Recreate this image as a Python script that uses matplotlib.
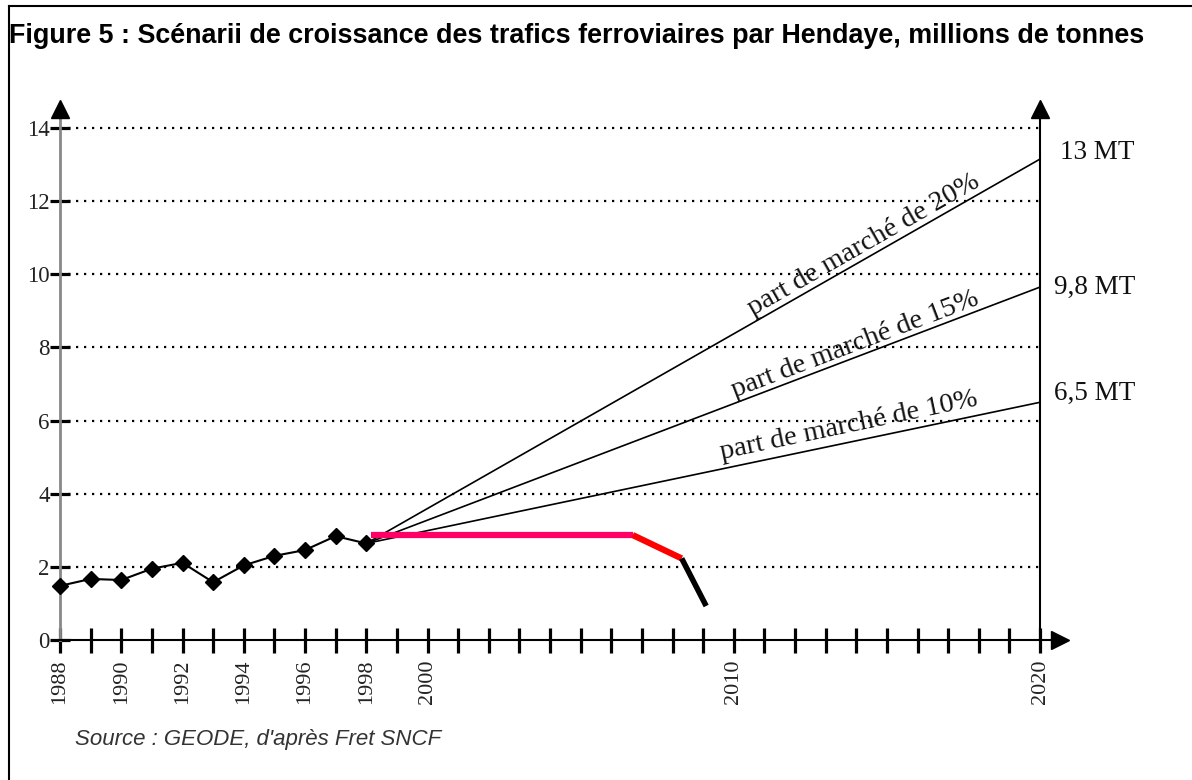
import numpy as np
import matplotlib
matplotlib.use("Agg")
import matplotlib.pyplot as plt
from matplotlib.lines import Line2D

# historical traffic via Hendaye (millions of tonnes)
years = [1988, 1989, 1990, 1991, 1992, 1993, 1994, 1995, 1996, 1997, 1998]
traffic = [1.48, 1.67, 1.64, 1.95, 2.11, 1.58, 2.04, 2.30, 2.46, 2.84, 2.64]

# scenarios from 1998 to 2020
scen_start = 1998
scen_end = 2020
scen_values = [13.15, 9.65, 6.5]
scen_names = ["part de marché de 20%", "part de marché de 15%", "part de marché de 10%"]
scen_end_labels = ["13 MT", "9,8 MT", "6,5 MT"]

# actual trend drawn on top (pink / red / black)
pink_x = [1998.15, 2006.7]
pink_y = [2.87, 2.87]
red_x = [2006.7, 2008.3]
red_y = [2.87, 2.23]
black_x = [2008.3, 2009.1]
black_y = [2.23, 0.93]

xlabel_years = [1988, 1990, 1992, 1994, 1996, 1998, 2000, 2010, 2020]
yticks = [0, 2, 4, 6, 8, 10, 12, 14]

serif = "Liberation Serif"
sans = "Liberation Sans"

fig = plt.figure(figsize=(11.92, 7.8), dpi=100)
ax = fig.add_axes([60 / 1192, 140 / 780, 980 / 1192, 512 / 780])
ax.set_xlim(1988, 2020)
ax.set_ylim(0, 14)
for s in ax.spines.values():
    s.set_visible(False)
ax.patch.set_visible(False)

# dotted grid
ax.hlines(yticks[1:], 1988, 2020, colors="black", linewidth=1.6,
          linestyles=(0, (1, 2.6)), clip_on=False, zorder=1)

# axes lines with arrows
ax.plot([1988, 1988], [0, 14.5], color="#888888", lw=2, clip_on=False, zorder=2)
ax.plot([2020, 2020], [0, 14.5], color="black", lw=1.5, clip_on=False, zorder=2)
ax.plot([1988, 2020.6], [0, 0], color="black", lw=1.5, clip_on=False, zorder=2)
ax.plot([1988, 2020], [14.53, 14.53], ls="none", marker="^", ms=13, color="black", clip_on=False)
ax.plot([2020.65], [0], ls="none", marker=">", ms=13, color="black", clip_on=False)

# ticks
ax.set_xticks(xlabel_years)
ax.set_xticks(np.arange(1988, 2021), minor=True)
ax.set_xticklabels([str(y) for y in xlabel_years], rotation=90, fontfamily=serif,
                   fontsize=16, color="#222222")
ax.tick_params(axis="x", which="both", direction="inout", length=18, width=2.3,
               color="black", pad=5)
ax.set_yticks(yticks)
ax.set_yticklabels([str(v) for v in yticks], fontfamily=serif, fontsize=16.5, color="#222222")
ax.tick_params(axis="y", direction="inout", length=15, width=2.3, color="black", pad=0)

# scenario lines
for val, name, off, xc in zip(scen_values, scen_names, [0.0, 0.0, 0.1],
                              [2014.45, 2014.1, 2013.85]):
    ax.plot([scen_start, scen_end], [traffic[-1], val], color="black", lw=1.2,
            clip_on=False, zorder=3)
    slope = (val - traffic[-1]) / (scen_end - scen_start)
    yc = traffic[-1] + slope * (xc - scen_start) + off
    ang = np.degrees(np.arctan2(val - traffic[-1], scen_end - scen_start))
    ax.text(xc, yc, name, rotation=ang, transform_rotates_text=True,
            rotation_mode="anchor", ha="center", va="bottom",
            fontfamily=serif, fontsize=20.5, color="#111111")

ax.text(2023.1, 13.34, scen_end_labels[0], ha="right", va="center",
        fontfamily=serif, fontsize=19.5, color="#111111", clip_on=False)
ax.text(2023.1, 9.65, scen_end_labels[1], ha="right", va="center",
        fontfamily=serif, fontsize=19.5, color="#111111", clip_on=False)
ax.text(2023.1, 6.75, scen_end_labels[2], ha="right", va="center",
        fontfamily=serif, fontsize=19.5, color="#111111", clip_on=False)

# historical series
ax.plot(years, traffic, color="black", lw=1.5, marker="D", ms=8.5, zorder=4, clip_on=False)

# observed trend
ax.plot(pink_x, pink_y, color="#ff0066", lw=4.5, solid_capstyle="butt", zorder=5)
ax.plot(red_x, red_y, color="#ff0000", lw=4.5, solid_capstyle="butt", zorder=5)
ax.plot(black_x, black_y, color="black", lw=4, solid_capstyle="butt", zorder=5)

# title, source, frame
fig.text(9 / 1192, 1 - 36 / 780,
         "Figure 5 : Scénarii de croissance des trafics ferroviaires par Hendaye, millions de tonnes",
         fontfamily=sans, fontweight="bold", fontsize=19.4, va="center", ha="left")
fig.text(75 / 1192, 1 - 740 / 780, "Source : GEODE, d'après Fret SNCF",
         fontfamily=sans, style="italic", fontsize=16, color="#333333", va="center")
fig.add_artist(Line2D([9 / 1192, 1], [1 - 6 / 780, 1 - 6 / 780], color="black", lw=1.5))
fig.add_artist(Line2D([9 / 1192, 9 / 1192], [0, 1 - 6 / 780], color="black", lw=1.5))

fig.savefig("out.png", dpi=100)
